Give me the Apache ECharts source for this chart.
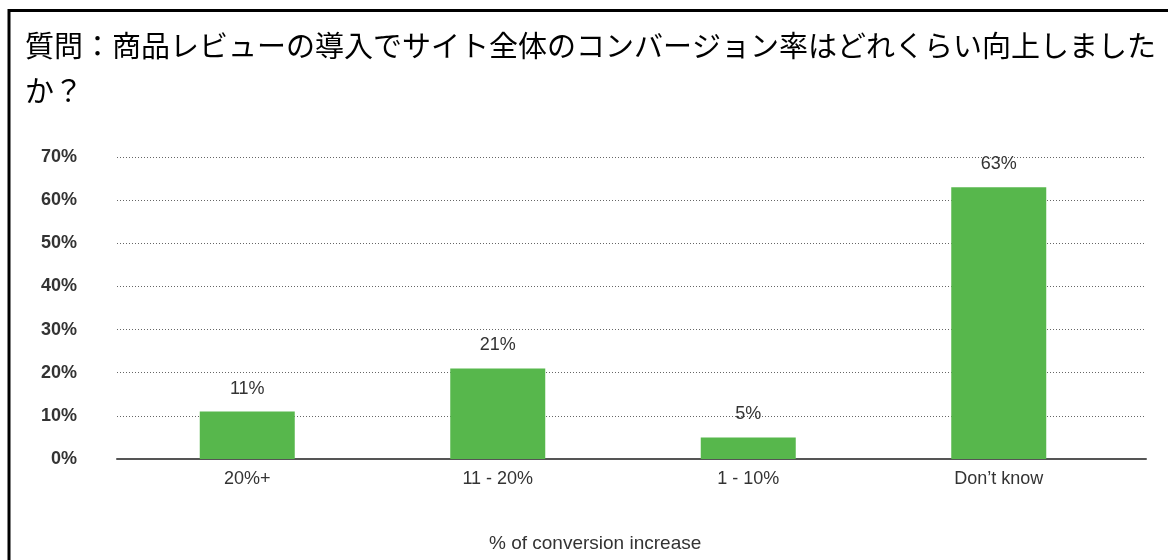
<!DOCTYPE html>
<html><head><meta charset="utf-8">
<script src="https://cdn.jsdelivr.net/npm/echarts@6/dist/echarts.min.js"></script>
<style>html,body{margin:0;padding:0;background:#fff}#c{width:1168px;height:560px}</style>
</head><body><div id="c"></div>
<script>
const titleText = '質問：商品レビューの導入でサイト全体のコンバージョン率はどれくらい向上しました\nか？';
const categories = ['20%+', '11 - 20%', '1 - 10%', 'Don\u2019t know'];
const values = [11, 21, 5, 63];
const yTicks = [0, 10, 20, 30, 40, 50, 60, 70];
const xAxisTitle = '% of conversion increase';

const chart = echarts.init(document.getElementById('c'), null, {renderer: 'canvas'});
const yMin = yTicks[0], yMax = yTicks[yTicks.length - 1], yStep = yTicks[1] - yTicks[0];
const sans = '"Liberation Sans", Arial';
chart.setOption({
  animation: false,
  backgroundColor: '#fff',
  title: [{
    text: titleText, left: 20, top: 18,
    textStyle: {fontFamily: '"Noto Sans CJK JP"', fontSize: 29, fontWeight: 'normal', color: '#000', lineHeight: 45}
  }, {
    text: xAxisTitle, left: 484, top: 529,
    textStyle: {fontFamily: sans, fontSize: 19, fontWeight: 'normal', color: '#333'}
  }],
  graphic: [
    {type: 'line', shape: {x1: 8, y1: 10.5, x2: 1168, y2: 10.5}, style: {stroke: '#000', lineWidth: 3}},
    {type: 'line', shape: {x1: 9, y1: 9, x2: 9, y2: 560}, style: {stroke: '#000', lineWidth: 3}}
  ],
  grid: [
    {left: 117, right: 22, top: 157, bottom: 101},
    {left: 122, right: 44, top: 157, bottom: 101}
  ],
  xAxis: [
    {gridIndex: 0, type: 'category', data: categories,
     axisLine: {show: true, lineStyle: {color: '#555', width: 2}}, axisTick: {show: false}, axisLabel: {show: false}},
    {gridIndex: 1, type: 'category', data: categories,
     axisLine: {show: false}, axisTick: {show: false},
     axisLabel: {margin: 11, fontFamily: sans, fontSize: 18, color: '#333'}}
  ],
  yAxis: [
    {gridIndex: 0, type: 'value', min: yMin, max: yMax, interval: yStep,
     axisLine: {show: false}, axisTick: {show: false},
     axisLabel: {margin: 40, formatter: v => v + '%', fontFamily: sans, fontSize: 18, fontWeight: 'bold', color: '#333'},
     splitLine: {show: true, lineStyle: {color: '#666', type: [1, 2], width: 1}}},
    {gridIndex: 1, type: 'value', min: yMin, max: yMax, interval: yStep, show: false, splitLine: {show: false}}
  ],
  series: [{
    type: 'bar', xAxisIndex: 1, yAxisIndex: 1, data: values, barWidth: 95,
    itemStyle: {color: '#57b74c'},
    label: {show: true, position: 'top', distance: 14, formatter: p => p.value + '%',
      fontFamily: sans, fontSize: 18, color: '#333'}
  }]
});
</script></body></html>
